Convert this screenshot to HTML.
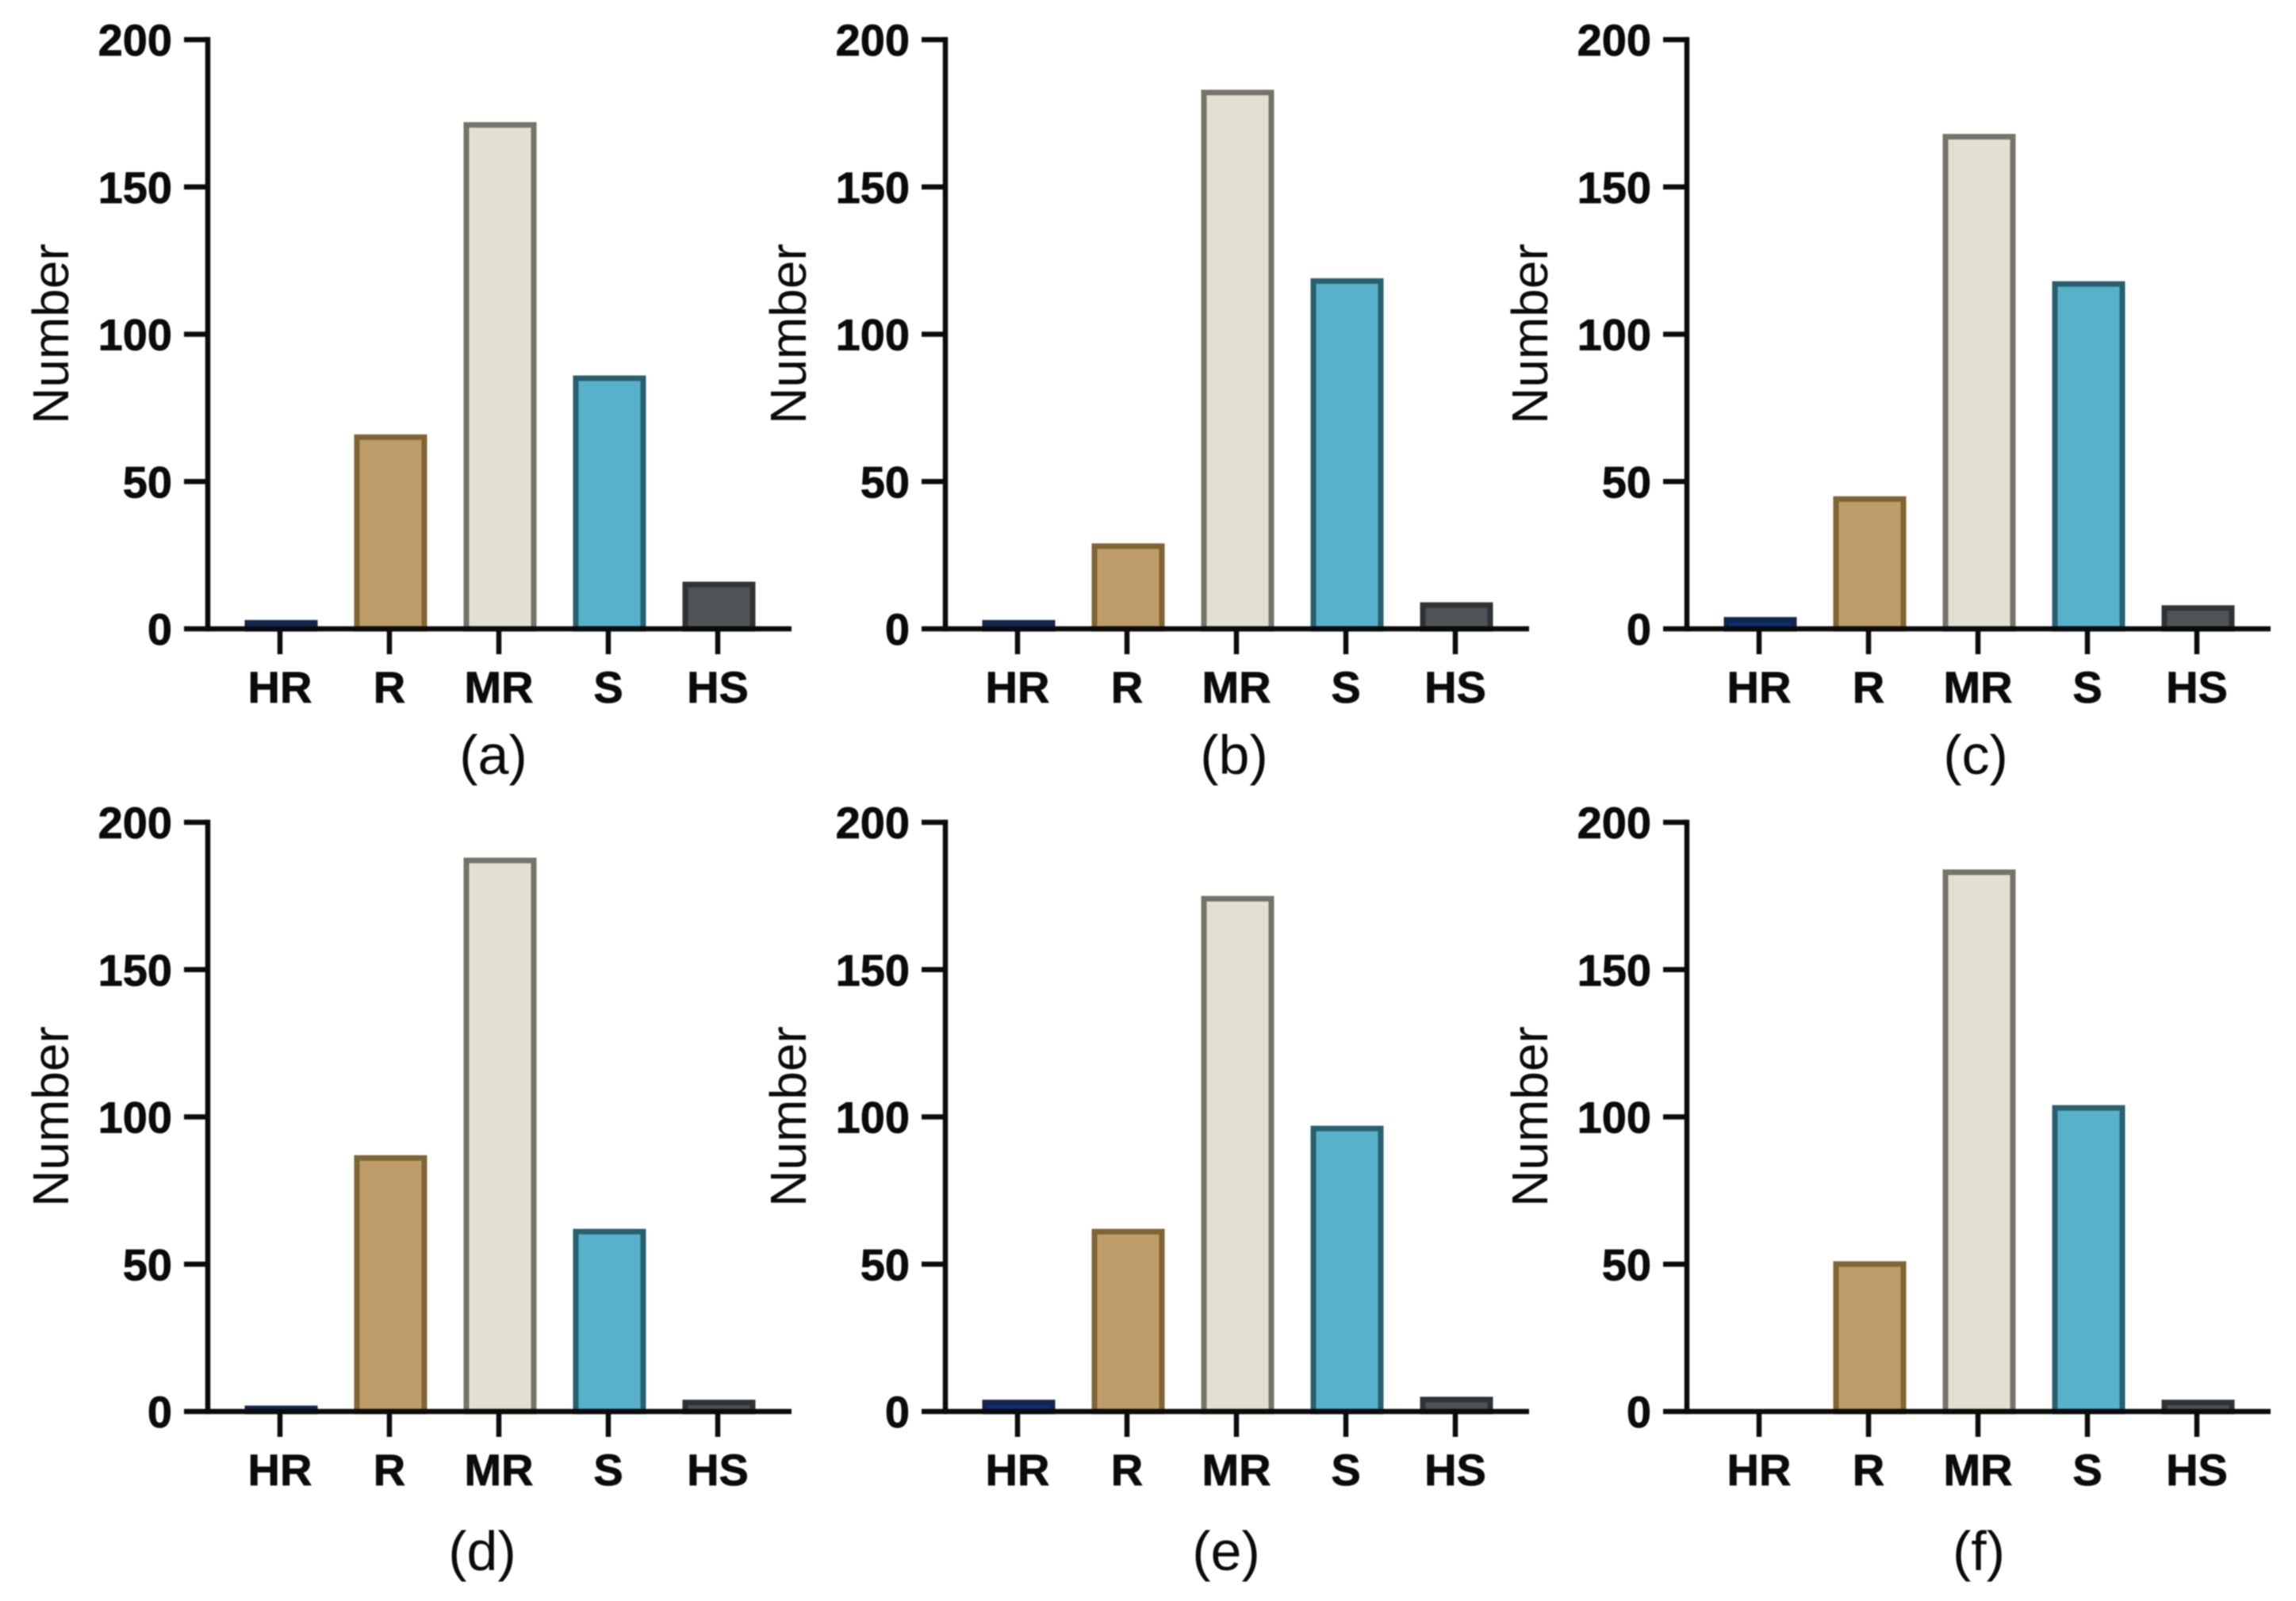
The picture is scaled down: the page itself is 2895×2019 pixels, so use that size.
<!DOCTYPE html>
<html lang="en">
<head>
<meta charset="utf-8">
<title>Resistance category counts</title>
<style>
  html, body { margin: 0; padding: 0; background: #fff; }
  svg { display: block; filter: blur(0.7px); }
  text { font-family: "Liberation Sans", Arial, sans-serif; fill: #0b0b0b; }
  .tick { font-weight: 700; font-size: 56px; stroke: #0b0b0b; stroke-width: 0.8px; }
  .ytitle { font-size: 64px; }
  .caption { font-size: 70px; }
</style>
</head>
<body>
<svg id="figure" xmlns="http://www.w3.org/2000/svg" width="2895" height="2019" viewBox="0 0 2895 2019"></svg>
<script>
const categories = ["HR", "R", "MR", "S", "HS"];
const yTicks = [0, 50, 100, 150, 200];
const panelLabels = ["a", "b", "c", "d", "e", "f"];
const valuesA = [3, 66, 172, 86, 16];
const valuesB = [3, 29, 183, 119, 9];
const valuesC = [4, 45, 168, 118, 8];
const valuesD = [2, 87, 188, 62, 4];
const valuesE = [4, 62, 175, 97, 5];
const valuesF = [0, 51, 184, 104, 4];
const yMax = 200;

const panelValues = { a: valuesA, b: valuesB, c: valuesC, d: valuesD, e: valuesE, f: valuesF };
const panelLayout = {
  a: { left: 262, top: 50, captionX: 622, captionGap: 183 },
  b: { left: 1192, top: 50, captionX: 1556, captionGap: 183 },
  c: { left: 2127, top: 50, captionX: 2491, captionGap: 183 },
  d: { left: 262, top: 1037, captionX: 608, captionGap: 200 },
  e: { left: 1192, top: 1037, captionX: 1546, captionGap: 200 },
  f: { left: 2127, top: 1037, captionX: 2495, captionGap: 200 }
};
const barStyles = {
  HR: { fill: "#0f2f78", stroke: "#14264f" },
  R: { fill: "#bd9c69", stroke: "#7f6533" },
  MR: { fill: "#e3dfd2", stroke: "#75736a" },
  S: { fill: "#58b1cb", stroke: "#28606f" },
  HS: { fill: "#4d5357", stroke: "#2f3336" }
};

const plotHeight = 743;
const firstBarOffset = 91;
const barNudge = 1.5;
const barStep = 138;
const barOuterWidth = 92;
const barStroke = 7;
const axisStroke = 6.5;
const axisInk = "#0b0b0b";
const NS = "http://www.w3.org/2000/svg";
const figure = document.getElementById("figure");

function make(tag, attrs, parent) {
  const el = document.createElementNS(NS, tag);
  for (const k in attrs) el.setAttribute(k, attrs[k]);
  parent.appendChild(el);
  return el;
}

function yScale(layout, value) {
  return layout.top + plotHeight - (value / yMax) * plotHeight;
}

function xScale(layout, index) {
  return layout.left + firstBarOffset + index * barStep;
}

function drawPanel(label) {
  const layout = panelLayout[label];
  const values = panelValues[label];
  const baseY = yScale(layout, 0);

  const group = make("g", {}, figure);
  
  

  categories.forEach(function (cat, i) {
    const v = values[i];
    if (v <= 0) return;
    const style = barStyles[cat];
    const topY = yScale(layout, v);
    const bar = make("rect", {
      x: xScale(layout, i) + barNudge - barOuterWidth / 2 + barStroke / 2,
      y: topY + barStroke / 2,
      width: barOuterWidth - barStroke,
      height: Math.max(baseY - topY - barStroke / 2, 0.5),
      fill: style.fill,
      stroke: style.stroke,
      "stroke-width": barStroke
    }, group);
    
    
  });

  const yAxis = make("line", {
    x1: layout.left, x2: layout.left,
    y1: layout.top - axisStroke / 2, y2: baseY + axisStroke / 2,
    stroke: axisInk, "stroke-width": axisStroke
  }, group);
  
  

  const xAxis = make("line", {
    x1: layout.left, x2: xScale(layout, categories.length - 1) + 93,
    y1: baseY, y2: baseY,
    stroke: axisInk, "stroke-width": axisStroke
  }, group);
  
  

  yTicks.forEach(function (t) {
    const y = yScale(layout, t);
    const tick = make("line", {
      x1: layout.left - 30, x2: layout.left,
      y1: y, y2: y,
      stroke: axisInk, "stroke-width": axisStroke
    }, group);
    
    

    const txt = make("text", {
      x: layout.left - 45, y: y + 20, "text-anchor": "end", class: "tick"
    }, group);
    txt.textContent = String(t);
    
    
  });

  categories.forEach(function (cat, i) {
    const x = xScale(layout, i);
    const tick = make("line", {
      x1: x, x2: x,
      y1: baseY, y2: baseY + 32,
      stroke: axisInk, "stroke-width": axisStroke
    }, group);
    
    

    const txt = make("text", {
      x: x, y: baseY + 93, "text-anchor": "middle", class: "tick"
    }, group);
    txt.textContent = cat;
    
    
  });

  const titleX = layout.left - 176;
  const titleY = layout.top + 371;
  const title = make("text", {
    x: titleX, y: titleY, "text-anchor": "middle", class: "ytitle",
    transform: "rotate(-90 " + titleX + " " + titleY + ")"
  }, group);
  title.textContent = "Number";
  
  

  const caption = make("text", {
    x: layout.captionX, y: baseY + layout.captionGap, "text-anchor": "middle", class: "caption"
  }, group);
  caption.textContent = "(" + label + ")";
  
  
}

panelLabels.forEach(drawPanel);
</script>
</body>
</html>
